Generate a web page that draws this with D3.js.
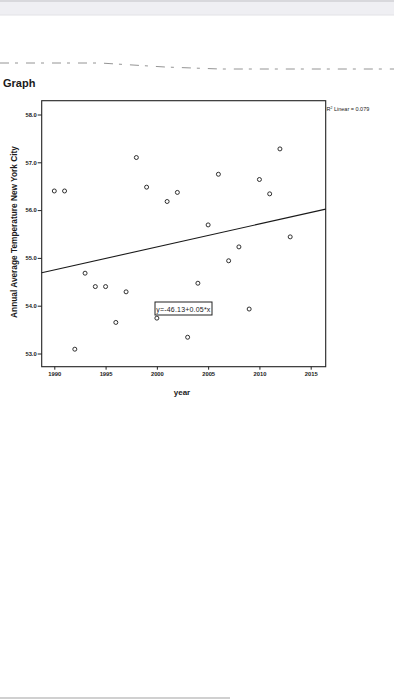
<!DOCTYPE html>
<html>
<head>
<meta charset="utf-8">
<script src="https://cdn.jsdelivr.net/npm/d3@7"></script>
<style>
  body { margin: 0; background: #fff; }
  text { font-family: "Liberation Sans", Arial, sans-serif; fill: #1a1a1a; }
</style>
</head>
<body>
<div id="chart"></div>
<script>
// data
var years = [1990, 1991, 1992, 1993, 1994, 1995, 1996, 1997, 1998, 1999, 2000, 2001,
             2002, 2003, 2004, 2005, 2006, 2007, 2008, 2009, 2010, 2011, 2012, 2013]
var temps = [56.40, 56.40, 53.09, 54.68, 54.40, 54.40, 53.65, 54.29, 57.10, 56.48, 53.74, 56.18,
             56.37, 53.34, 54.47, 55.69, 56.75, 54.94, 55.23, 53.93, 56.64, 56.34, 57.28, 55.44]
var xTicks = [1990, 1995, 2000, 2005, 2010, 2015]
var yTicks = [53, 54, 55, 56, 57, 58]
var fitLabel = "y=-46.13+0.05*x"
var r2Label = " Linear = 0.079"

var W = 394, H = 700
var svg = d3.select("#chart").append("svg")
    .attr("width", W)
    .attr("height", H)

// browser-ish grey strip at the top and bottom edge
svg.append("rect").attr("x", 0).attr("y", 0).attr("width", W).attr("height", 15)
    .attr("fill", "#efeff3")
svg.append("line").attr("x1", 0).attr("x2", W).attr("y1", 1).attr("y2", 1)
    .attr("stroke", "#d8d8dc").attr("stroke-width", 2)
svg.append("line").attr("x1", 0).attr("x2", W).attr("y1", 15).attr("y2", 15)
    .attr("stroke", "#e2e2e6")
svg.append("line").attr("x1", 0).attr("x2", 230).attr("y1", 698).attr("y2", 698)
    .attr("stroke", "#d0d0d0").attr("stroke-width", 2)

// faint scan line
svg.append("path")
  .attr("d", "M0,63 L100,63 L165,67 L220,69 L394,69")
  .attr("fill", "none")
  .attr("stroke", "#888")
  .attr("stroke-width", 0.9)
  .attr("stroke-dasharray", "9,6,3,8")

svg.append("text")
  .attr("x", 3).attr("y", 87)
  .attr("font-size", 11).attr("font-weight", "bold")
  .text("Graph")

var box = {left: 41.7, right: 325.7, top: 100.7, bottom: 366.7}

var x = d3.scaleLinear().domain([1990, 2015]).range([54.3, 310.7])
var y = d3.scaleLinear().domain([53, 58]).range([353.5, 114.5])

// frame
svg.append("rect")
  .attr("x", box.left).attr("y", box.top)
  .attr("width", box.right - box.left).attr("height", box.bottom - box.top)
  .attr("fill", "none").attr("stroke", "#222").attr("stroke-width", 1.1)

// axes
var xAxis = svg.append("g")
  .attr("transform", "translate(0," + box.bottom + ")")
  .call(d3.axisBottom(x).tickValues(xTicks).tickFormat(d3.format("d")).tickSize(3).tickPadding(2))
var yAxis = svg.append("g")
  .attr("transform", "translate(" + box.left + ",0)")
  .call(d3.axisLeft(y).tickValues(yTicks).tickFormat(d3.format(".1f")).tickSize(4).tickPadding(1))

;[xAxis, yAxis].forEach(function (g) {
  g.select(".domain").remove()
  g.selectAll("line").attr("stroke", "#222")
  g.selectAll("text").attr("font-size", 5.8).attr("font-weight", "bold")
    .style("font-family", "'Liberation Sans', Arial, sans-serif").attr("fill", "#222")
})

// axis titles
svg.append("text")
  .attr("x", 182).attr("y", 395)
  .attr("text-anchor", "middle")
  .attr("font-size", 8).attr("font-weight", "bold")
  .text("year")
svg.append("text")
  .attr("transform", "translate(17," + 232 + ") rotate(-90)")
  .attr("text-anchor", "middle")
  .attr("font-size", 8.3).attr("font-weight", "bold")
  .text("Annual Average Temperature New York City")

// least squares fit through the points
var pts = d3.zip(years, temps)
var mx = d3.mean(years), my = d3.mean(temps)
var slope = d3.sum(pts, p => (p[0] - mx) * (p[1] - my)) / d3.sum(years, v => (v - mx) * (v - mx))
var icpt = my - slope * mx
var x0 = x.invert(box.left), x1 = x.invert(box.right)

svg.append("line")
  .attr("x1", x(x0)).attr("y1", y(icpt + slope * x0))
  .attr("x2", x(x1)).attr("y2", y(icpt + slope * x1))
  .attr("stroke", "#1a1a1a").attr("stroke-width", 1.1)

// points
svg.selectAll("circle.pt")
  .data(pts)
  .enter().append("circle")
    .attr("class", "pt")
    .attr("cx", d => x(d[0]))
    .attr("cy", d => y(d[1]))
    .attr("r", 2)
    .attr("fill", "none")
    .attr("stroke", "#1a1a1a")
    .attr("stroke-width", 0.9)

// equation label box
var eqG = svg.append("g")
eqG.append("rect")
  .attr("x", 155).attr("y", 302).attr("width", 57).attr("height", 13)
  .attr("fill", "#fff").attr("stroke", "#222").attr("stroke-width", 1)
eqG.append("text")
  .attr("x", 156.3).attr("y", 311.5)
  .attr("font-size", 7)
  .attr("textLength", 54)
  .text(fitLabel)

// R squared note
var r2 = svg.append("text")
  .attr("x", 326.5).attr("y", 111)
  .attr("font-size", 5.5)
r2.append("tspan").text("R")
r2.append("tspan").attr("dy", -2).attr("font-size", 3.5).text("2")
r2.append("tspan").attr("dy", 2).text(r2Label)
</script>
</body>
</html>
